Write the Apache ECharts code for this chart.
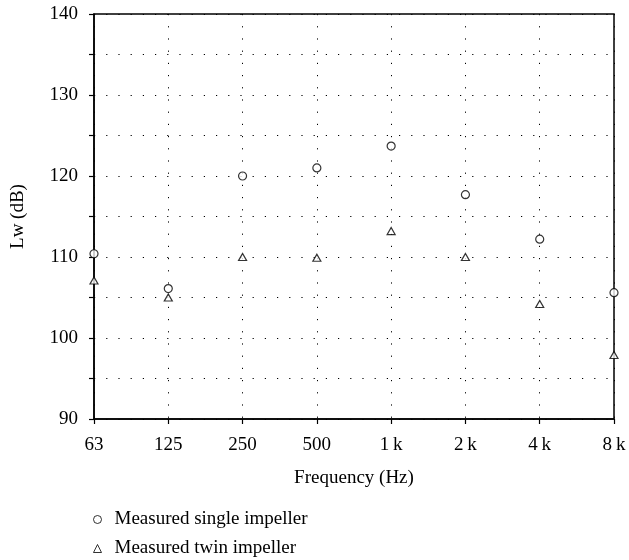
<!DOCTYPE html>
<html>
<head>
<meta charset="utf-8">
<script src="https://cdn.jsdelivr.net/npm/echarts@6/dist/echarts.min.js"></script>
<style>
  html, body { margin: 0; padding: 0; background: #fff; }
  #chart { width: 629px; height: 560px; }
</style>
</head>
<body>
<div id="chart"></div>
<script>
const frequencies = ['63', '125', '250', '500', '1\u2009k', '2\u2009k', '4\u2009k', '8\u2009k'];
const singleImpeller = [110.4, 106.1, 120.0, 121.0, 123.7, 117.7, 112.2, 105.6];
const twinImpeller = [107.1, 105.0, 110.0, 109.9, 113.2, 110.0, 104.2, 97.9];

const font = 'Liberation Serif';
const fontSize = 19;
const chart = echarts.init(document.getElementById('chart'));

const markStyle = {
    color: '#fff',
    borderColor: '#000',
    borderWidth: 1.2
};
const dotted = { color: '#000', type: [1.2, 11], width: 1 };

// one legend per row so they stack like the original
const legendRow = (name, icon, top) => ({
    orient: 'vertical',
    left: 88,
    top: top,
    itemWidth: 8,
    itemHeight: 8,
    itemStyle: { borderWidth: 1 },
    textStyle: { fontFamily: font, fontSize: fontSize, color: '#000', padding: [0, 0, 0, 8] },
    data: [{ name: name, icon: icon }]
});

chart.setOption({
    animation: false,
    textStyle: { fontFamily: font, color: '#000' },
    grid: {
        left: 94,
        right: 15,
        top: 14,
        bottom: 141,
        show: true,
        borderColor: '#000',
        borderWidth: 1.5,
        backgroundColor: 'transparent'
    },
    legend: [
        legendRow('Measured single impeller', 'circle', 505),
        legendRow('Measured twin impeller', 'triangle', 534)
    ],
    xAxis: {
        type: 'category',
        data: frequencies,
        boundaryGap: false,
        name: 'Frequency (Hz)',
        nameLocation: 'middle',
        nameGap: 50,
        nameTextStyle: { fontFamily: font, fontSize: fontSize, color: '#000' },
        axisLine: { lineStyle: { color: '#000', width: 1.5 } },
        axisTick: { show: true, length: 5, inside: false, lineStyle: { color: '#000', width: 1.2 } },
        axisLabel: { fontFamily: font, fontSize: fontSize, color: '#000', margin: 17 },
        splitLine: { show: true, lineStyle: dotted }
    },
    yAxis: {
        type: 'value',
        min: 90,
        max: 140,
        interval: 5,
        name: 'Lw (dB)',
        nameLocation: 'middle',
        nameGap: 66,
        nameRotate: 90,
        nameTextStyle: { fontFamily: font, fontSize: fontSize, color: '#000' },
        axisLine: { show: true, lineStyle: { color: '#000', width: 1.5 } },
        axisTick: { show: true, length: 5, lineStyle: { color: '#000', width: 1.2 } },
        axisLabel: {
            fontFamily: font,
            fontSize: fontSize,
            color: '#000',
            margin: 16,
            formatter: v => (v % 10 === 0 ? String(v) : '')
        },
        splitLine: { show: true, lineStyle: dotted }
    },
    series: [
        {
            name: 'Measured single impeller',
            type: 'scatter',
            symbol: 'circle',
            symbolSize: 8,
            itemStyle: markStyle,
            data: singleImpeller
        },
        {
            name: 'Measured twin impeller',
            type: 'scatter',
            symbol: 'triangle',
            symbolSize: [8, 7],
            itemStyle: markStyle,
            data: twinImpeller
        }
    ]
});
</script>
</body>
</html>
